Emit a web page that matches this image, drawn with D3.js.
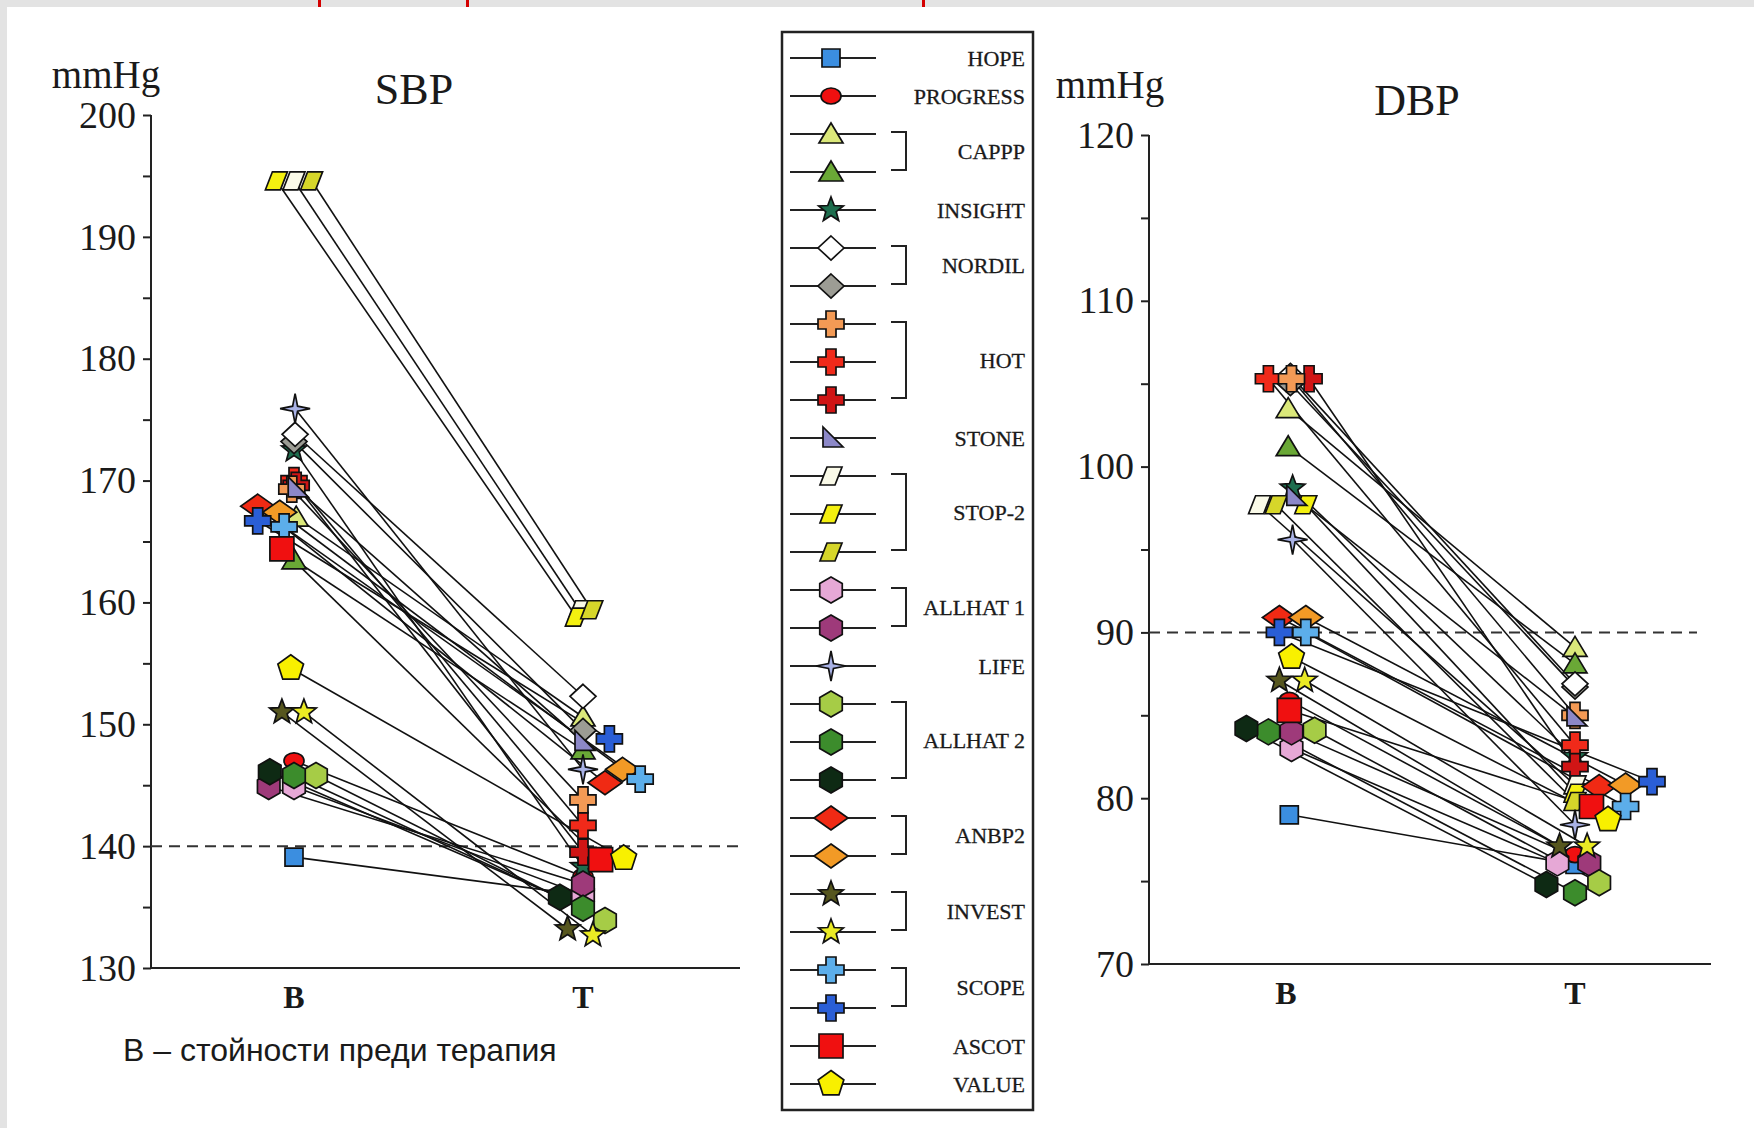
<!DOCTYPE html>
<html>
<head>
<meta charset="utf-8">
<script src="https://cdn.jsdelivr.net/npm/d3@7"></script>
<style>
    body { margin: 0; background: #e3e3e3; }
    svg text { font-family: "Liberation Serif", "Times New Roman", serif; fill: #1a1a1a; }
</style>
</head>
<body>
<svg id="chart" width="1754" height="1128"></svg>
<script>
// rows in legend order
const groupOf = ["HOPE", "PROGRESS", "CAPPP", "CAPPP", "INSIGHT", "NORDIL", "NORDIL", "HOT", "HOT", "HOT",
    "STONE", "STOP-2", "STOP-2", "STOP-2", "ALLHAT 1", "ALLHAT 1", "LIFE", "ALLHAT 2", "ALLHAT 2", "ALLHAT 2",
    "ANBP2", "ANBP2", "INVEST", "INVEST", "SCOPE", "SCOPE", "ASCOT", "VALUE"];

const timepoints = ["B", "T"];

// systolic, mmHg
const sbpBase  = [139.1, 147.0, 167.0, 163.5, 172.5, 173.8, 173.2, 169.3, 170.0, 169.6,
    169.4, 194.6, 194.6, 194.6, 144.9, 144.9, 175.9, 145.8, 145.8, 146.1,
    167.9, 167.4, 151.0, 151.0, 166.2, 166.7, 164.4, 154.6];
const sbpTreat = [136.0, 137.5, 150.6, 147.9, 138.3, 152.3, 149.5, 143.8, 141.7, 139.5,
    148.6, 159.4, 158.8, 159.4, 136.0, 136.9, 146.3, 133.9, 134.9, 135.8,
    145.2, 146.3, 133.2, 132.7, 145.5, 148.8, 138.9, 139.0];

// diastolic, mmHg
const dbpBase  = [79.0, 85.9, 103.5, 101.2, 98.7, 105.5, 105.0, 105.3, 105.3, 105.3,
    98.2, 97.7, 97.7, 97.7, 83.0, 84.0, 95.6, 84.1, 84.0, 84.2,
    90.9, 90.9, 87.1, 87.1, 90.0, 90.0, 85.3, 88.5];
const dbpTreat = [76.0, 76.6, 89.1, 88.1, 82.5, 86.9, 86.7, 85.0, 83.2, 81.9,
    84.9, 80.8, 80.3, 79.8, 76.1, 76.1, 78.4, 74.9, 74.3, 74.8,
    80.7, 80.8, 77.1, 77.1, 79.5, 81.0, 79.5, 78.7];

const sbpTicks = [130, 135, 140, 145, 150, 155, 160, 165, 170, 175, 180, 185, 190, 195, 200];
const dbpTicks = [70, 75, 80, 85, 90, 95, 100, 105, 110, 115, 120];
const caption = "В – стойности преди терапия";

// marker style per row
const markerType = ["square", "circle", "triangle", "triangle", "star5", "diamond", "diamond", "cross", "cross", "cross",
    "wedge", "para", "para", "para", "hexagon", "hexagon", "star4", "hexagon", "hexagon", "hexagon",
    "wideDiamond", "wideDiamond", "star5", "star5", "cross", "cross", "bigSquare", "pentagon"];
const markerColor = ["#3b8ee0", "#f01010", "#dbe87a", "#6aa836", "#1e6e4e", "#ffffff", "#9c9c94", "#f39a55", "#f02a1a", "#d01515",
    "#8c88c8", "#fafae8", "#f4f010", "#d6d62a", "#e6a8d6", "#9e3a7a", "#a9b2e6", "#a6cc46", "#3c8c2c", "#0e2a14",
    "#f02a14", "#f29a26", "#56561e", "#eaea24", "#5caeea", "#2a5ed6", "#f01010", "#f8f000"];

// horizontal jitter of overlapping markers, in marker widths
const sbpSlotB = [0, 0, 0.1, 0, 0, 0.05, 0, -0.1, 0, 0.1, 0.1, 0, -0.8, 0.8, 0, -1.15, 0.05, 1.0, 0, -1.1,
    -1.65, -0.65, -0.55, 0.45, -0.45, -1.65, -0.55, -0.15];
const sbpSlotT = [0, 0, 0, 0, 0, 0, 0, 0, 0, 0, 0, -0.15, -0.3, 0.4, 0, 0, 0, 1.0, 0, -1.05,
    1.0, 1.8, -0.7, 0.45, 2.6, 1.2, 0.8, 1.85];
const dbpSlotB = [0.15, 0.15, 0.1, 0.1, 0.3, 0.2, 0.2, 0.25, -0.8, 1.05, 0.4, -1.2, 0.9, -0.45, 0.25, 0.25, 0.3, 1.3, -0.8, -1.8,
    -0.3, 0.9, -0.3, 0.85, 0.9, -0.3, 0.15, 0.25];
const dbpSlotT = [0, 0, 0, 0, 0, 0, 0, 0, 0, 0, 0, 0, 0, 0, -0.8, 0.65, 0, 1.1, 0, -1.3,
    1.1, 2.3, -0.7, 0.55, 2.3, 3.5, 0.75, 1.5];

const zOrder = [0, 1, 2, 3, 4, 6, 5, 8, 9, 7, 11, 12, 13, 10, 14, 15, 16, 17, 18, 19, 20, 21, 22, 23, 24, 25, 26, 27];

function polyPath(n, R, r) {
    let pts = [];
    let k = r ? 2 * n : n;
    for (let i = 0; i < k; i++) {
        let a = (-90 + i * 360 / k) * Math.PI / 180;
        let rad = (r && i % 2) ? r : R;
        pts.push([rad * Math.cos(a), rad * Math.sin(a)]);
    }
    return "M" + pts.map(p => p[0].toFixed(2) + "," + p[1].toFixed(2)).join("L") + "Z";
}

const shapes = {
    square: "M-9,-9H9V9H-9Z",
    bigSquare: "M-12,-12H12V12H-12Z",
    circle: "M-10,0A10,8 0 1,0 10,0A10,8 0 1,0 -10,0Z",
    triangle: "M0,-11L12,9H-12Z",
    star5: polyPath(5, 13, 5.5),
    diamond: "M0,-12L13,0L0,12L-13,0Z",
    wideDiamond: "M0,-12L17,0L0,12L-17,0Z",
    cross: "M-5,-13H5V-5H13V5H5V13H-5V5H-13V-5H-5Z",
    wedge: "M-8,-11L-8,9L12,9Z",
    para: "M-4,-9H11L4,9H-11Z",
    hexagon: polyPath(6, 13),
    star4: polyPath(4, 15, 3.5),
    pentagon: polyPath(5, 13.5)
};

const svg = d3.select("#chart");

svg.append("rect").attr("x", 7).attr("y", 7).attr("width", 1747).attr("height", 1121).attr("fill", "#fff");
[318, 466, 922].forEach(x => svg.append("rect").attr("x", x).attr("y", 0).attr("width", 3).attr("height", 7).attr("fill", "#d40000"));

function drawMarker(g, i, x, y) {
    g.append("path")
        .attr("d", shapes[markerType[i]])
        .attr("transform", `translate(${x},${y})`)
        .attr("fill", markerColor[i])
        .attr("stroke", "#111")
        .attr("stroke-width", 1.7)
        .attr("stroke-linejoin", "miter");
}

class SlopePanel {
    constructor(cfg) {
        this.cfg = cfg;
        this.initVis();
    }

    initVis() {
        let vis = this;
        let c = vis.cfg;
        vis.g = svg.append("g");

        vis.y = d3.scaleLinear().domain(d3.extent(c.ticks)).range([c.bottom, c.top]);
        vis.x = d3.scalePoint().domain(timepoints).range(c.xRange);
        vis.unit = 22;

        let yAxis = vis.g.append("g")
            .attr("transform", `translate(${c.left},0)`)
            .call(d3.axisLeft(vis.y).tickValues(c.ticks).tickFormat(d => d % 10 === 0 ? d : "").tickSize(8).tickPadding(7));
        yAxis.selectAll("path, line").attr("stroke", "#222").attr("stroke-width", 2);
        yAxis.select(".domain").attr("d", `M-0,${c.top}V${c.bottom}`);
        yAxis.selectAll("text").attr("font-size", 38).attr("font-family", "Liberation Serif").attr("fill", "#1a1a1a");

        vis.g.append("line")
            .attr("x1", c.left).attr("x2", c.right)
            .attr("y1", c.bottom).attr("y2", c.bottom)
            .attr("stroke", "#222").attr("stroke-width", 2);

        vis.g.selectAll(".tp").data(timepoints).enter().append("text")
            .attr("class", "tp")
            .attr("x", d => vis.x(d)).attr("y", c.bottom + 40)
            .attr("text-anchor", "middle").attr("font-size", 32).attr("font-weight", "bold")
            .text(d => d);

        vis.g.append("line")
            .attr("x1", c.left).attr("x2", c.refEnd)
            .attr("y1", vis.y(c.ref)).attr("y2", vis.y(c.ref))
            .attr("stroke", "#333").attr("stroke-width", 2).attr("stroke-dasharray", "11,7");

        vis.g.append("text").attr("x", c.unitPos[0]).attr("y", c.unitPos[1])
            .attr("text-anchor", "middle").attr("font-size", 39).text("mmHg");
        vis.g.append("text").attr("x", c.titlePos[0]).attr("y", c.titlePos[1])
            .attr("text-anchor", "middle").attr("font-size", 44).text(c.title);

        vis.updateVis();
    }

    updateVis() {
        let vis = this;
        let c = vis.cfg;
        let pts = groupOf.map((d, i) => ({
            i: i,
            xb: vis.x("B") + c.slotB[i] * vis.unit, yb: vis.y(c.base[i]),
            xt: vis.x("T") + c.slotT[i] * vis.unit, yt: vis.y(c.treat[i])
        }));

        vis.g.selectAll(".link").data(pts).enter().append("line")
            .attr("class", "link")
            .attr("x1", d => d.xb).attr("y1", d => d.yb)
            .attr("x2", d => d.xt).attr("y2", d => d.yt)
            .attr("stroke", "#111").attr("stroke-width", 1.6);

        let mg = vis.g.append("g");
        zOrder.forEach(i => drawMarker(mg, i, pts[i].xt, pts[i].yt));
        zOrder.forEach(i => drawMarker(mg, i, pts[i].xb, pts[i].yb));
    }
}

new SlopePanel({
    title: "SBP", ticks: sbpTicks, base: sbpBase, treat: sbpTreat, slotB: sbpSlotB, slotT: sbpSlotT,
    left: 151, right: 740, top: 115, bottom: 968, xRange: [294, 583],
    ref: 140, refEnd: 744, unitPos: [106, 88], titlePos: [414, 104]
});
new SlopePanel({
    title: "DBP", ticks: dbpTicks, base: dbpBase, treat: dbpTreat, slotB: dbpSlotB, slotT: dbpSlotT,
    left: 1149, right: 1711, top: 135, bottom: 964, xRange: [1286, 1575],
    ref: 90, refEnd: 1697, unitPos: [1110, 98], titlePos: [1417, 115]
});

// legend
let leg = svg.append("g");
leg.append("rect").attr("x", 782).attr("y", 32).attr("width", 251).attr("height", 1078)
    .attr("fill", "#fff").attr("stroke", "#222").attr("stroke-width", 2.5);

let rowY = d3.scalePoint().domain(d3.range(groupOf.length)).range([58, 1084]);

groupOf.forEach((g, i) => {
    leg.append("line").attr("x1", 790).attr("x2", 876).attr("y1", rowY(i)).attr("y2", rowY(i))
        .attr("stroke", "#222").attr("stroke-width", 1.8);
    drawMarker(leg, i, 831, rowY(i));
});

d3.groups(groupOf.map((g, i) => ({g, i})), d => d.g).forEach(([label, rows]) => {
    let y1 = rowY(rows[0].i), y2 = rowY(rows[rows.length - 1].i);
    if (rows.length > 1) {
        leg.append("path")
            .attr("d", `M891,${y1 - 2}H906V${y2 - 2}H891`)
            .attr("fill", "none").attr("stroke", "#222").attr("stroke-width", 2);
    }
    leg.append("text")
        .attr("x", 1025).attr("y", (y1 + y2) / 2 - (rows.length > 1 ? 2 : 0))
        .attr("dy", "0.35em").attr("text-anchor", "end").attr("font-size", 22)
        .attr("stroke", "#1a1a1a").attr("stroke-width", 0.3)
        .text(label);
});

svg.append("text").attr("x", 123).attr("y", 1061)
    .style("font-family", "'Liberation Sans', Arial, sans-serif").attr("font-size", 32).attr("fill", "#222")
    .text(caption);
</script>
</body>
</html>
